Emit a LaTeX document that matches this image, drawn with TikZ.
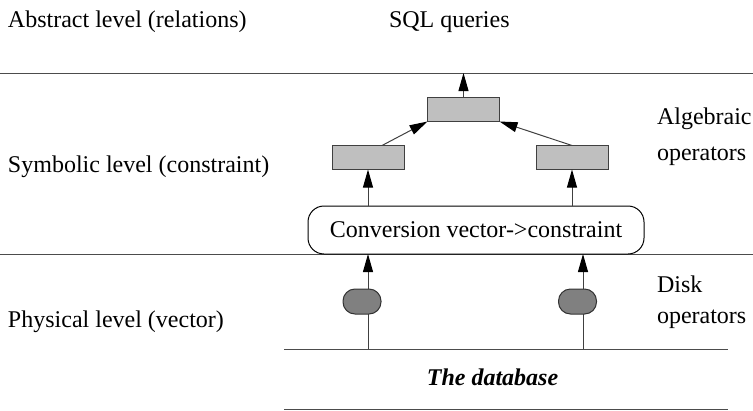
\documentclass[tikz,border=0pt]{standalone}
\usepackage{fontspec}
\setmainfont{Liberation Serif}
\usetikzlibrary{arrows.meta}

\begin{document}
\begin{tikzpicture}[x=1pt,y=-1pt,
  every node/.style={font=\fontsize{24}{28}\selectfont, inner sep=0pt, outer sep=0pt},
  lbl/.style={anchor=base west},
  opbox/.style={draw=black!75, line width=1pt, fill=black!25, minimum width=72pt, minimum height=24pt},
  diskop/.style={draw=black!80, line width=1pt, fill=black!50, rounded corners=12pt, minimum width=38pt, minimum height=25pt},
  convbox/.style={draw=black, line width=1pt, fill=white, rounded corners=16pt, minimum width=336pt, minimum height=48pt},
  level/.style={draw=black!70, line width=1pt},
  arr/.style={draw=black!75, line width=1pt, -{Triangle[length=18pt,width=10pt,color=black]}}]
\useasboundingbox (0,0) rectangle (753,410);

\node[lbl] (abstract) at (8,27) {Abstract level (relations)};
\node[lbl] (symbolic) at (8,172) {Symbolic level (constraint)};
\node[lbl] (physical) at (8,327) {Physical level (vector)};
\node[lbl] (sql) at (389,27) {SQL queries};
\node[lbl] (alg1) at (657,124) {Algebraic};
\node[lbl] (alg2) at (657,160) {operators};
\node[lbl] (disk1) at (657,292) {Disk};
\node[lbl] (disk2) at (657,323) {operators};

\draw[level] (0,73) -- (753,73);
\draw[level] (0,254) -- (753,254);
\draw[level] (284,349) -- (728,349);
\draw[level] (284,409) -- (728,409);
\node[anchor=base] (db) at (492.5,385) {\textbf{\textit{The database}}};

\coordinate (sqltip) at (463.5,73);
\coordinate (dbl) at (368,349);
\coordinate (dbr) at (583,349);

\node[opbox] (top) at (463.5,109.5) {};
\node[opbox] (algl) at (368,157.5) {};
\node[opbox] (algr) at (572,157.5) {};
\node[convbox] (conv) at (476,230) {Conversion vector->constraint};

\draw[arr] (top.north) -- (sqltip);
\draw[arr] ([xshift=14pt]algl.north) -- (top.south west);
\draw[arr] (algr.north) -- (top.south east);
\draw[arr] (conv.north -| algl) -- (algl.south);
\draw[arr] (conv.north -| algr) -- (algr.south);
\draw[arr] (dbl) -- (conv.south -| dbl);
\draw[arr] (dbr) -- (conv.south -| dbr);

\node[diskop] (diskl) at (362,301.5) {};
\node[diskop] (diskr) at (577.5,301.5) {};
\end{tikzpicture}
\end{document}
